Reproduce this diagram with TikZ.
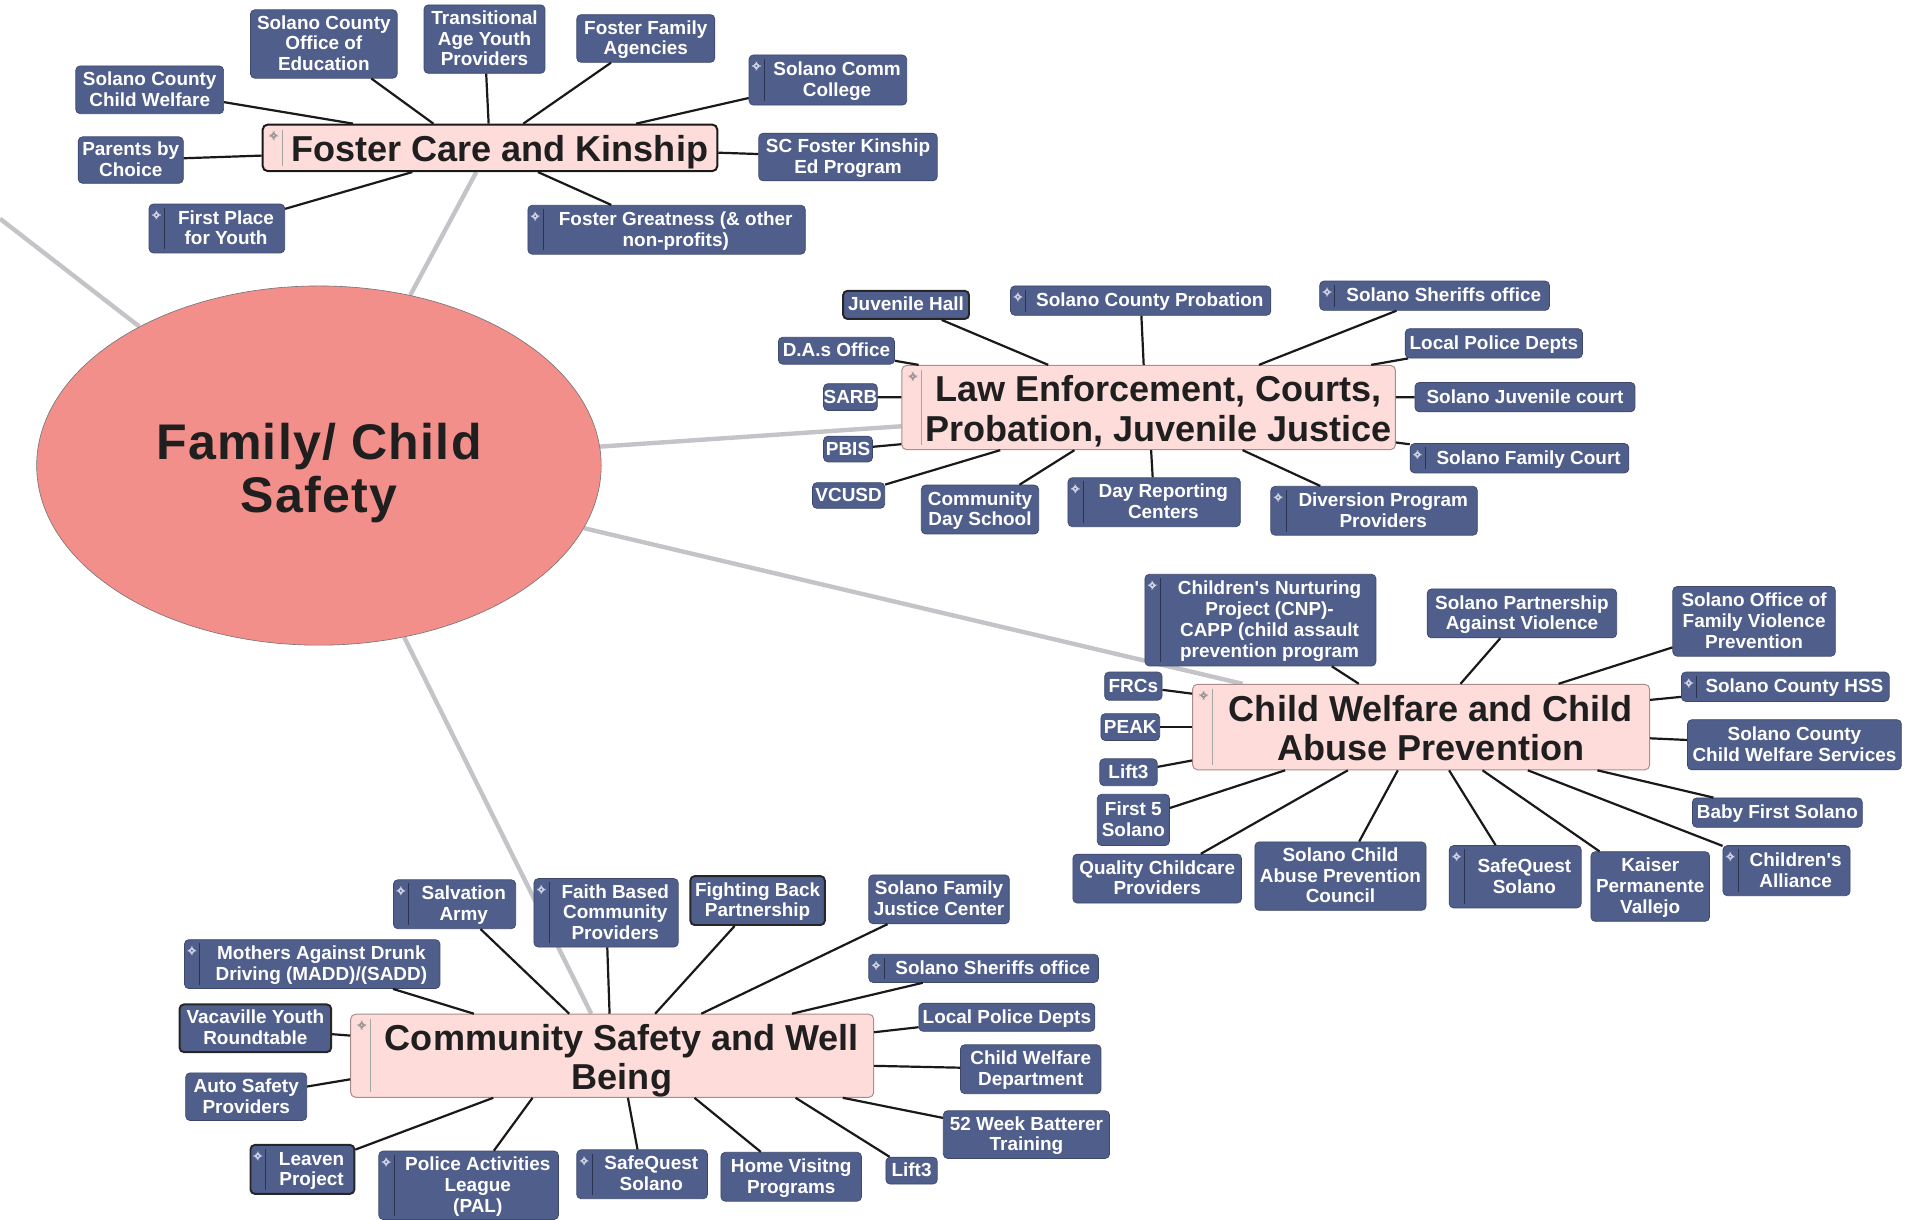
\documentclass[tikz,border=0pt]{standalone}
\usepackage{fontspec}
\setmainfont{Liberation Sans}
\newfontfamily\rootfam{Liberation Sans}[LetterSpace=2.5]
\usetikzlibrary{calc,shapes.geometric,backgrounds}
\definecolor{leafblue}{RGB}{80,94,140}
\definecolor{leafline}{RGB}{62,72,108}
\definecolor{hubpink}{RGB}{253,220,218}
\definecolor{hubline}{RGB}{170,140,140}
\definecolor{rootred}{RGB}{243,143,138}
\definecolor{greyline}{RGB}{196,196,200}
\definecolor{markc}{RGB}{205,208,225}
\definecolor{sepc}{RGB}{45,52,80}
\newcommand\leaffont{\bfseries\fontsize{15.5pt}{17pt}\selectfont}
\newcommand\hubfont{\bfseries\fontsize{29.5pt}{32pt}\selectfont}
\newcommand\rootfont{\rootfam\bfseries\fontsize{41pt}{44pt}\selectfont}
\newcommand\apo{\textquotesingle}
\newcommand\ttab[1]{\raisebox{-1.5pt}[\height][\depth]{\begin{tabular}{@{}c@{}}#1\end{tabular}}}
\newcommand\htab[1]{\raisebox{-5pt}[\height][\depth]{\begin{tabular}{@{}c@{}}#1\end{tabular}}}
\newcommand\rtab[1]{\raisebox{-8pt}[\height][\depth]{\begin{tabular}{@{}c@{}}#1\end{tabular}}}
% plain leaf: [style]{name}{x1}{y1}{x2}{y2}{text}
\newcommand\bx[7][]{\node[leaf,#1,minimum width={(#5-#3)*1pt},minimum height={(#6-#4)*1pt}] (#2) at ({(#3+#5)/2},{(#4+#6)/2}) {\ttab{#7}};}
% marked leaf
\newcommand\mbx[7][]{\node[leaf,mk,#1,minimum width={(#5-#3)*1pt},minimum height={(#6-#4)*1pt}] (#2) at ({(#3+#5)/2},{(#4+#6)/2}) {\hspace*{15pt}\ttab{#7}};}
% hub
\newcommand\hub[7][]{\node[hubbox,#1,minimum width={(#5-#3)*1pt},minimum height={(#6-#4)*1pt}] (#2) at ({(#3+#5)/2},{(#4+#6)/2}) {\hspace*{16pt}\htab{#7}};}
% connectors: child, parent, fraction along parent edge
\newcommand\cT[3]{\draw[link] (#1) -- ($(#2.north west)!#3!(#2.north east)$);}
\newcommand\cB[3]{\draw[link] (#1) -- ($(#2.south west)!#3!(#2.south east)$);}
\newcommand\cL[3]{\draw[link] (#1) -- ($(#2.north west)!#3!(#2.south west)$);}
\newcommand\cR[3]{\draw[link] (#1) -- ($(#2.north east)!#3!(#2.south east)$);}
\tikzset{
  leaf/.style={draw=leafline, line width=0.6pt, fill=leafblue, rounded corners=3.5pt,
    text=white, font=\leaffont, inner sep=0pt},
  darkb/.style={draw=black!85, line width=1.6pt},
  mk/.style={path picture={
    \draw[markc, line width=0.6pt] ([shift={(6pt,-9pt)}]path picture bounding box.north west)
      +(-2.6pt,0) -- +(0,2.6pt) -- +(2.6pt,0) -- +(0,-2.6pt) -- cycle;
    \draw[sepc, line width=0.8pt] ([shift={(12.5pt,-3pt)}]path picture bounding box.north west)
      -- ([shift={(12.5pt,3pt)}]path picture bounding box.south west);}},
  hubbox/.style={draw=hubline, line width=0.8pt, fill=hubpink, rounded corners=4pt,
    text=black!88, font=\hubfont, inner sep=0pt,
    path picture={
    \draw[gray!80, line width=0.5pt] ([shift={(9pt,-9pt)}]path picture bounding box.north west)
      +(-2.6pt,0) -- +(0,2.6pt) -- +(2.6pt,0) -- +(0,-2.6pt) -- cycle;
    \draw[gray!70, line width=0.6pt] ([shift={(16pt,-4pt)}]path picture bounding box.north west)
      -- ([shift={(16pt,4pt)}]path picture bounding box.south west);}},
  hubdark/.style={draw=black!90, line width=1.6pt},
  link/.style={line width=1.8pt, black!90},
  glink/.style={line width=3.6pt, greyline},
}
\begin{document}
\begin{tikzpicture}[x=1pt,y=-1pt]
\useasboundingbox (0,0) rectangle (1568,998);

% root
\node[ellipse, minimum width=462pt, minimum height=294pt, fill=rootred, draw=black!55,
  line width=0.5pt, inner sep=0pt, font=\rootfont, text=black!88] (root) at (261,381)
  {\rtab{Family/ Child\\Safety}};
\coordinate (offl) at (0,179);

% hubs
\hub[hubdark]{fos}{215}{102}{587}{140}{Foster Care and Kinship}
\hub{law}{738}{299}{1142}{368}{Law Enforcement, Courts,\\Probation, Juvenile Justice}
\hub{cw}{976}{560}{1350}{630}{Child Welfare and Child\\Abuse Prevention}
\hub{csw}{287}{830}{715}{898}{Community Safety and Well\\Being}

% Foster care leaves
\bx{scw}{62}{54}{183}{93}{Solano County\\Child Welfare}
\bx{scoe}{205}{8}{325}{64}{Solano County\\Office of\\Education}
\bx{tay}{347}{4}{446}{60}{Transitional\\Age Youth\\Providers}
\bx{ffa}{472}{12}{585}{51}{Foster Family\\Agencies}
\mbx{scc}{613}{45}{742}{86}{Solano Comm\\College}
\bx{sfk}{621}{109}{767}{148}{SC Foster Kinship\\Ed Program}
\mbx{fgr}{432}{168}{659}{208}{Foster Greatness (\& other\\non-profits)}
\mbx{fpy}{122}{167}{233}{207}{First Place\\for Youth}
\bx{pbc}{64}{112}{150}{150}{Parents by\\Choice}

% Law leaves
\bx[darkb]{jh}{690}{238}{793}{261}{Juvenile Hall}
\mbx{scp}{827}{234}{1040}{258}{Solano County Probation}
\mbx{sso}{1080}{230}{1268}{254}{Solano Sheriffs office}
\bx{lpd}{1150}{269}{1295}{293}{Local Police Depts}
\bx{sjc}{1158}{313}{1338}{337}{Solano Juvenile court}
\mbx{sfc}{1154}{363}{1333}{387}{Solano Family Court}
\mbx{dpp}{1040}{398}{1209}{438}{Diversion Program\\Providers}
\mbx{drc}{874}{391}{1015}{431}{Day Reporting\\Centers}
\bx{cds}{754}{397}{850}{437}{Community\\Day School}
\bx{vcusd}{665}{395}{724}{416}{VCUSD}
\bx{pbis}{674}{357}{714}{378}{PBIS}
\bx{sarb}{674}{314}{718}{336}{SARB}
\bx{das}{637}{276}{732}{298}{D.A.s Office}

% Child welfare leaves
\mbx{cnp}{937}{470}{1126}{545}{Children\apo s Nurturing\\Project (CNP)-\\CAPP (child assault\\prevention program}
\bx{spav}{1168}{482}{1323}{522}{Solano Partnership\\Against Violence}
\bx{sofvp}{1369}{480}{1502}{537}{Solano Office of\\Family Violence\\Prevention}
\mbx{hss}{1376}{550}{1546}{574}{Solano County HSS}
\bx{sccws}{1381}{589}{1556}{630}{Solano County\\Child Welfare Services}
\bx{bfs}{1385}{653}{1524}{677}{Baby First Solano}
\mbx{cha}{1410}{692}{1514}{733}{Children\apo s\\Alliance}
\bx{kpv}{1302}{697}{1399}{754}{Kaiser\\Permanente\\Vallejo}
\mbx{sqs}{1186}{692}{1294}{743}{SafeQuest\\Solano}
\bx{scapc}{1027}{689}{1167}{745}{Solano Child\\Abuse Prevention\\Council}
\bx{qcp}{878}{699}{1016}{739}{Quality Childcare\\Providers}
\bx{f5s}{898}{650}{957}{692}{First 5\\Solano}
\bx{lift}{900}{621}{947}{643}{Lift3}
\bx{peak}{901}{584}{949}{606}{PEAK}
\bx{frc}{904}{550}{951}{573}{FRCs}

% Community leaves
\mbx{sal}{322}{720}{422}{760}{Salvation\\Army}
\mbx{fbc}{437}{719}{555}{775}{Faith Based\\Community\\Providers}
\bx[darkb]{fbp}{565}{717}{675}{757}{Fighting Back\\Partnership}
\bx{sfjc}{711}{716}{826}{756}{Solano Family\\Justice Center}
\mbx{sso2}{711}{781}{899}{804}{Solano Sheriffs office}
\bx{lpd2}{752}{821}{896}{844}{Local Police Depts}
\bx{cwd}{786}{855}{901}{895}{Child Welfare\\Department}
\bx{wbt}{772}{909}{908}{948}{52 Week Batterer\\Training}
\bx{lift2}{725}{947}{767}{969}{Lift3}
\bx{hvp}{590}{943}{705}{983}{Home Visitng\\Programs}
\mbx{sq2}{472}{941}{579}{981}{SafeQuest\\Solano}
\mbx{pal}{310}{942}{457}{998}{Police Activities\\League\\(PAL)}
\mbx[darkb]{lvp}{205}{937}{290}{977}{Leaven\\Project}
\bx{asp}{152}{878}{251}{917}{Auto Safety\\Providers}
\bx[darkb]{vyr}{147}{822}{271}{861}{Vacaville Youth\\Roundtable}
\mbx{madd}{151}{769}{360}{809}{Mothers Against Drunk\\Driving (MADD)/(SADD)}

% grey main branches
\begin{scope}[on background layer]
\draw[glink] (root) -- (offl);
\draw[glink] (root) -- ($(fos.south west)!0.47!(fos.south east)$);
\draw[glink] (root) -- ($(law.north west)!0.72!(law.south west)$);
\draw[glink] (root) -- ($(cw.north west)!0.11!(cw.north east)$);
\draw[glink] (root) -- ($(csw.north west)!0.46!(csw.north east)$);
\end{scope}

% Foster connectors
\cT{scw}{fos}{0.20}
\cT{scoe}{fos}{0.376}
\cT{tay}{fos}{0.497}
\cT{ffa}{fos}{0.573}
\cT{scc}{fos}{0.82}
\cR{sfk}{fos}{0.6}
\cB{fgr}{fos}{0.605}
\cB{fpy}{fos}{0.33}
\cL{pbc}{fos}{0.66}

% Law connectors
\cT{jh}{law}{0.297}
\cT{scp}{law}{0.49}
\cT{sso}{law}{0.723}
\cT{lpd}{law}{0.95}
\cR{sjc}{law}{0.38}
\cR{sfc}{law}{0.91}
\cB{dpp}{law}{0.69}
\cB{drc}{law}{0.505}
\cB{cds}{law}{0.35}
\cB{vcusd}{law}{0.2}
\cL{pbis}{law}{0.93}
\cL{sarb}{law}{0.38}
\cT{das}{law}{0.035}

% Child welfare connectors
\cT{cnp}{cw}{0.364}
\cT{spav}{cw}{0.586}
\cT{sofvp}{cw}{0.80}
\cR{hss}{cw}{0.186}
\cR{sccws}{cw}{0.63}
\cB{bfs}{cw}{0.885}
\cB{cha}{cw}{0.733}
\cB{kpv}{cw}{0.634}
\cB{sqs}{cw}{0.561}
\cB{scapc}{cw}{0.449}
\cB{qcp}{cw}{0.34}
\cB{f5s}{cw}{0.203}
\cL{lift}{cw}{0.886}
\cL{peak}{cw}{0.5}
\cL{frc}{cw}{0.114}

% Community connectors
\cT{sal}{csw}{0.418}
\cT{fbc}{csw}{0.495}
\cT{fbp}{csw}{0.582}
\cT{sfjc}{csw}{0.67}
\cT{sso2}{csw}{0.843}
\cR{lpd2}{csw}{0.22}
\cR{cwd}{csw}{0.62}
\cB{wbt}{csw}{0.94}
\cB{lift2}{csw}{0.85}
\cB{hvp}{csw}{0.657}
\cB{sq2}{csw}{0.53}
\cB{pal}{csw}{0.348}
\cB{lvp}{csw}{0.273}
\cL{asp}{csw}{0.78}
\cL{vyr}{csw}{0.26}
\cT{madd}{csw}{0.236}
\end{tikzpicture}
\end{document}
